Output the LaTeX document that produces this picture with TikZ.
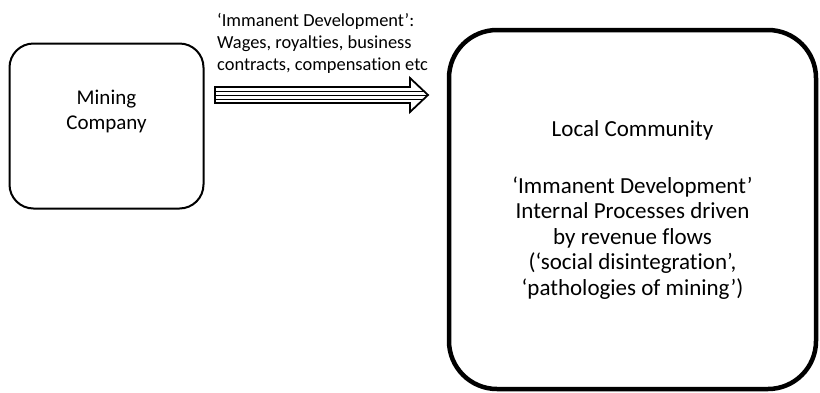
\documentclass[tikz,border=0pt]{standalone}
\usepackage{fontspec}
\setmainfont[Ligatures={TeX,NoCommon}]{Carlito}
\usepackage{tikz}
\usetikzlibrary{positioning, calc}

% outline of the striped block arrow
\newcommand{\flowpath}{(tail) ++(0,-8) -- ($(tip)+(-18,-8)$) -- ($(tip)+(-18,-17)$)
  -- (tip) -- ($(tip)+(-18,17)$) -- ($(tip)+(-18,8)$) -- ($(tail)+(0,8)$) -- cycle}

\begin{document}
\begin{tikzpicture}[
    x=1pt, y=-1pt,
    box/.style={rectangle, draw=black, line width=2pt, rounded corners=24pt,
                minimum width=194pt, minimum height=165pt, inner sep=0pt},
    bigbox/.style={rectangle, draw=black, line width=4.5pt, rounded corners=48pt,
                minimum width=367pt, minimum height=359pt, align=center,
                font=\fontsize{23}{25.5}\selectfont},
    txt/.style={align=center, inner sep=0pt, font=\fontsize{21}{25}\selectfont},
    lbl/.style={align=left, inner sep=0pt, font=\fontsize{18.4}{22}\selectfont},
    flow/.style={draw=black, line width=1.8pt},
    stripe/.style={draw=black, line width=0.8pt},
  ]
    \useasboundingbox (0,0) rectangle (820,392);

    \node[box] (company) at (106.5,126) {};
    \node[txt] (companytext) at ([yshift=15pt]company.center) {Mining\\Company};

    \node[bigbox] (community) at (632.5,209.5)
         {Local Community\\[31.5pt]‘Immanent Development’\\Internal Processes driven\\by revenue flows\\(‘social disintegration’,\\‘pathologies of mining’)};

    \coordinate (tail) at (215,95);
    \coordinate (tip) at (428,95);
    \begin{scope}
      \clip \flowpath;
      \foreach \dy in {-4,0,4}
        \draw[stripe] ($(tail)+(0,\dy)$) -- ($(tip)+(0,\dy)$);
    \end{scope}
    \draw[flow] \flowpath;

    \node[lbl, anchor=north west] (flowlabel) at (217,13)
         {‘Immanent Development’:\\Wages, royalties, business\\contracts, compensation etc};
  \end{tikzpicture}
\end{document}
